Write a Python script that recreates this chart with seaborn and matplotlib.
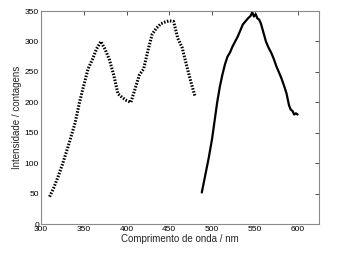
import matplotlib
matplotlib.use("Agg")
import matplotlib.pyplot as plt
import seaborn as sns
import pandas as pd

exc_wl = [310, 315, 320, 325, 330, 335, 340, 345, 350, 355, 360, 365, 370, 375, 380,
          385, 390, 395, 400, 405, 410, 415, 420, 425, 430, 435, 440, 445, 450, 455,
          460, 465, 470, 475, 480]
exc_int = [45, 60, 78, 98, 120, 143, 167, 200, 228, 255, 270, 288, 300, 287, 270,
           245, 214, 208, 203, 200, 222, 245, 255, 285, 312, 322, 329, 332, 334, 333,
           305, 290, 262, 235, 210]

em_wl = [488, 492, 496, 500, 503, 506, 509, 512, 515, 518, 521, 524, 527, 530, 533,
         536, 539, 542, 545, 547, 549, 551, 553, 555, 557, 560, 563, 566, 569, 572,
         575, 578, 581, 584, 587, 590, 592, 594, 596, 598, 600]
em_int = [52, 80, 108, 140, 170, 200, 225, 245, 262, 275, 282, 292, 300, 308, 318,
          328, 333, 338, 342, 348, 341, 345, 338, 336, 330, 315, 300, 290, 282, 272,
          260, 250, 240, 228, 215, 195, 188, 186, 180, 182, 180]

sns.set_style("white")
plt.rcParams['font.family'] = ['Liberation Sans', 'DejaVu Sans']

fig = plt.figure(figsize=(3.55, 2.57), dpi=100)
ax = fig.add_axes([0.1155, 0.128, 0.783, 0.829])

df_exc = pd.DataFrame({"wl": exc_wl, "I": exc_int})
df_em = pd.DataFrame({"wl": em_wl, "I": em_int})
sns.lineplot(data=df_exc, x="wl", y="I", ax=ax, color="black", lw=2.2,
             linestyle=(0, (0.5, 0.5)))
sns.lineplot(data=df_em, x="wl", y="I", ax=ax, color="black", lw=1.6)

ax.set_xlim(300, 625)
ax.set_ylim(0, 350)
ax.set_xticks([300, 350, 400, 450, 500, 550, 600])
ax.set_yticks([0, 50, 100, 150, 200, 250, 300, 350])
ax.tick_params(direction="in", length=3, width=0.6, labelsize=6, pad=1.5,
               top=True, right=True, colors="#333333", labelcolor="black")
for s in ax.spines.values():
    s.set_color("#8a8a8a")
    s.set_linewidth(0.8)
ax.set_xlabel("Comprimento de onda / nm", fontsize=7, labelpad=0.5)
ax.set_ylabel("Intensidade / contagens", fontsize=7, labelpad=2)

fig.savefig("out.png", dpi=100)
